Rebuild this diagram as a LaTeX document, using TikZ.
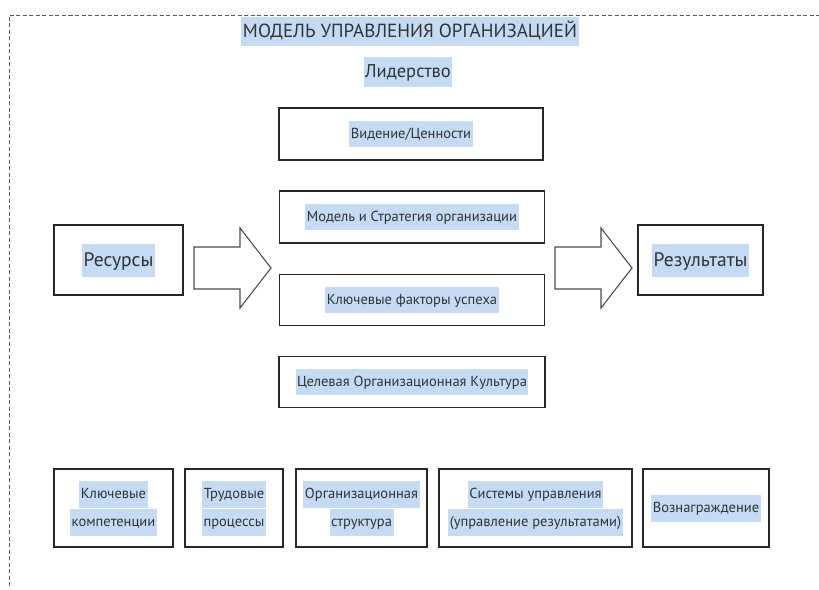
\documentclass[tikz,border=0pt]{standalone}
\usepackage{fontspec}
\setmainfont{PT Sans}
\usetikzlibrary{positioning}
\definecolor{hlblue}{HTML}{C4DBF3}
\definecolor{txtgray}{HTML}{333333}
\newcommand{\hlt}[1]{{\setlength{\fboxsep}{1.5pt}\colorbox{hlblue}{\strut #1}}}

\begin{document}
\begin{tikzpicture}[x=1pt,y=-1pt,
    box/.style={draw=black!85, line width=1.6pt, inner sep=0pt, align=center,
      text=txtgray, font=\fontsize{14.5}{23}\selectfont},
    bigbox/.style={box, font=\fontsize{19.5}{30}\selectfont},
    bottombox/.style={box, minimum height=78pt, font=\fontsize{14.5}{24}\selectfont},
    heading/.style={text=txtgray, inner sep=0pt},
    bigarrow/.pic={\draw[black!70, line width=1.1pt, line join=miter]
      (0,-21) -- (46,-21) -- (46,-40) -- (77,0) -- (46,40) -- (46,21) -- (0,21) -- cycle;}]
  \useasboundingbox (0,0) rectangle (819,589);
  \draw[black!65, line width=0.8pt, dash pattern=on 4pt off 2.5pt] (9,586) -- (9,15) -- (819,15);

  \node[heading, font=\fontsize{19}{26}\selectfont] (title) at (410,32) {\hlt{МОДЕЛЬ УПРАВЛЕНИЯ ОРГАНИЗАЦИЕЙ}};
  \node[heading, font=\fontsize{18.5}{27}\selectfont] (lead) at (408,72) {\hlt{Лидерство}};

  \node[box, minimum width=264pt, minimum height=52pt] (vision) at (411,134) {\hlt{Видение/Ценности}};
  \node[box, minimum width=265pt, minimum height=52pt] (strategy) at (412,217) {\hlt{Модель и Стратегия организации}};
  \node[box, minimum width=265pt, minimum height=51pt] (factors) at (412,300) {\hlt{Ключевые факторы успеха}};
  \node[box, minimum width=266pt, minimum height=51pt] (culture) at (412,382) {\hlt{Целевая Организационная Культура}};

  \node[bigbox, minimum width=129pt, minimum height=70pt] (res) at (118.5,260) {\hlt{Ресурсы}};
  \node[bigbox, minimum width=125pt, minimum height=70pt] (out) at (700.5,260) {\hlt{Результаты}};
  \pic at (194,268) {bigarrow};
  \pic at (555,268) {bigarrow};

  \node[bottombox, minimum width=119pt] (comp) at (113.5,508) {\hlt{Ключевые}\\\hlt{компетенции}};
  \node[bottombox, minimum width=98pt] (work) at (234,508) {\hlt{Трудовые}\\\hlt{процессы}};
  \node[bottombox, minimum width=131pt] (struct) at (361.5,508) {\hlt{Организационная}\\\hlt{структура}};
  \node[bottombox, minimum width=193pt] (mgmt) at (535.5,508) {\hlt{Системы управления}\\\hlt{(управление результатами)}};
  \node[bottombox, minimum width=126pt] (reward) at (706,508) {\hlt{Вознаграждение}};
\end{tikzpicture}
\end{document}
